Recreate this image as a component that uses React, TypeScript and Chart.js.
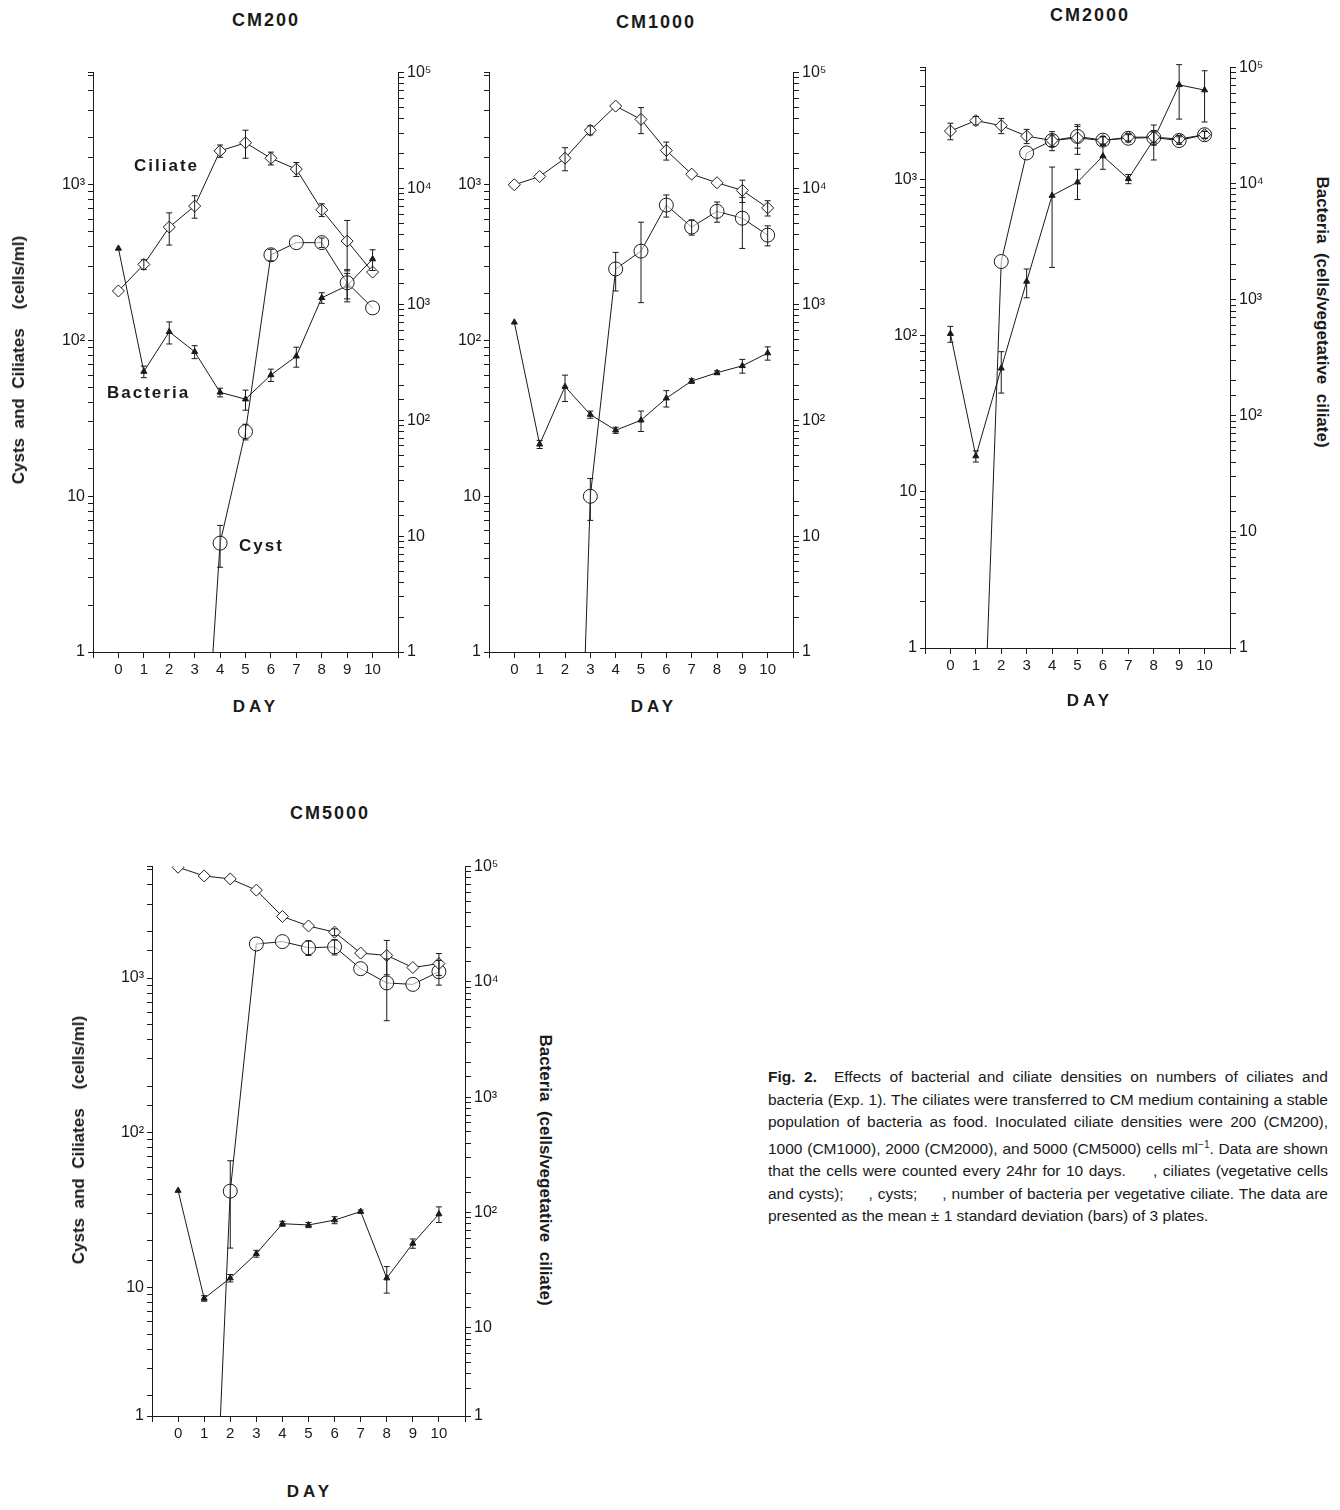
import { Chart, registerables } from 'chart.js';
import { useEffect, useRef } from 'react';

Chart.register(...registerables);

const days = [0, 1, 2, 3, 4, 5, 6, 7, 8, 9, 10];

// CM200
const cm200Ciliate = [208, 308, 535, 730, 1650, 1860, 1480, 1260, 690, 435, 275];
const cm200CiliateSd = [0, 22, 125, 120, 150, 380, 140, 130, 65, 155, 0];
const cm200CystDays = [3.72, 4, 5, 6, 7, 8, 9, 10];
const cm200Cyst = [1, 5, 26, 355, 425, 425, 235, 162];
const cm200CystSd = [0, 1.5, 3, 30, 0, 30, 50, 0];
const cm200Bacteria = [3040, 263, 580, 390, 174, 152, 246, 357, 1140, 1450, 2460];
const cm200BacteriaSd = [0, 30, 125, 50, 15, 30, 30, 70, 120, 400, 500];

// CM1000
const cm1000Ciliate = [1000, 1130, 1480, 2240, 3200, 2630, 1660, 1170, 1030, 920, 710];
const cm1000CiliateSd = [0, 0, 250, 150, 0, 500, 220, 0, 0, 150, 80];
const cm1000CystDays = [2.8, 3, 4, 5, 6, 7, 8, 9, 10];
const cm1000Cyst = [1, 10, 288, 375, 740, 535, 675, 610, 475];
const cm1000CystSd = [0, 3, 80, 200, 120, 60, 100, 220, 70];
const cm1000Bacteria = [700, 62, 195, 112, 82, 100, 155, 218, 257, 295, 380];
const cm1000BacteriaSd = [0, 5, 50, 8, 5, 20, 25, 10, 10, 40, 50];

// CM2000
const cm2000Ciliate = [2060, 2400, 2230, 1910, 1790, 1860, 1790, 1880, 1880, 1830, 1950];
const cm2000CiliateSd = [250, 150, 250, 200, 150, 400, 100, 100, 150, 100, 100];
const cm2000CystDays = [1.45, 2, 3, 4, 5, 6, 7, 8, 9, 10];
const cm2000Cyst = [1, 300, 1490, 1790, 1900, 1800, 1850, 1870, 1790, 1950];
const cm2000CystSd = [0, 0, 0, 250, 300, 100, 100, 200, 100, 100];
const cm2000Bacteria = [510, 45, 257, 1440, 7900, 10300, 17300, 11000, 24000, 71000, 64000];
const cm2000BacteriaSd = [80, 5, 100, 400, 6000, 3000, 4000, 1000, 8000, 35000, 30000];

// CM5000
const cm5000Ciliate = [5200, 4570, 4370, 3700, 2500, 2170, 1980, 1450, 1400, 1170, 1240];
const cm5000CiliateSd = [0, 0, 0, 0, 0, 0, 100, 0, 350, 0, 200];
const cm5000CystDays = [1.58, 2, 3, 4, 5, 6, 7, 8, 9, 10];
const cm5000Cyst = [1, 42, 1660, 1720, 1570, 1590, 1150, 930, 910, 1100];
const cm5000CystSd = [0, 24, 0, 0, 170, 180, 0, 400, 0, 200];
const cm5000Bacteria = [155, 18, 27, 44, 80, 78, 86, 102, 27, 54, 97];
const cm5000BacteriaSd = [0, 1, 2, 3, 4, 4, 6, 3, 7, 5, 15];

const leftTicks = [1, 10, 100, 1000];
const rightTicks = [1, 10, 100, 1000, 10000, 100000];
const tickText: Record<number, string> = { 1: '1', 10: '10', 100: '10²', 1000: '10³', 10000: '10⁴', 100000: '10⁵' };

const INK = '#1a1a1a';

const errorBars = {
  id: 'errorBars',
  afterDatasetsDraw(chart: any) {
    const ctx = chart.ctx;
    ctx.save();
    ctx.strokeStyle = INK;
    ctx.lineWidth = 1;
    chart.data.datasets.forEach((ds: any) => {
      if (!ds.sd) return;
      const ys = chart.scales[ds.yAxisID];
      ds.data.forEach((p: any, i: number) => {
        const sd = ds.sd[i];
        if (!sd) return;
        const x = chart.scales.x.getPixelForValue(p.x);
        const hi = ys.getPixelForValue(p.y + sd);
        const loV = Math.max(p.y - sd, ys.min);
        const lo = ys.getPixelForValue(loV);
        ctx.beginPath();
        ctx.moveTo(x, hi); ctx.lineTo(x, lo);
        ctx.moveTo(x - 3, hi); ctx.lineTo(x + 3, hi);
        if (p.y - sd > ys.min) { ctx.moveTo(x - 3, lo); ctx.lineTo(x + 3, lo); }
        ctx.stroke();
      });
    });
    ctx.restore();
  },
};

type PanelProps = {
  x1: number; y1: number; x2: number; y2: number;
  lMin?: number; rMin?: number;
  ciliate: number[]; ciliateSd: number[];
  cystDays: number[]; cyst: number[]; cystSd: number[];
  bacteria: number[]; bacteriaSd: number[];
};

const PADL = 70, PADR = 70, PADT = 12, PADB = 40;

function Panel(p: PanelProps) {
  const ref = useRef<HTMLCanvasElement | null>(null);
  useEffect(() => {
    if (!ref.current) return;
    const lMin = p.lMin ?? 1;
    const rMin = p.rMin ?? 1;
    const pts = (xs: number[], ys: number[]) => xs.map((x, i) => ({ x, y: ys[i] }));
    const chart = new Chart(ref.current, {
      type: 'line',
      data: {
        datasets: [
          {
            data: pts(days, p.ciliate), yAxisID: 'yL', sd: p.ciliateSd,
            borderColor: INK, borderWidth: 1, pointStyle: 'rectRot', pointRadius: 6,
            pointBackgroundColor: '#fff', pointBorderColor: INK, pointBorderWidth: 1,
          } as any,
          {
            data: pts(p.cystDays, p.cyst), yAxisID: 'yL', sd: p.cystSd,
            borderColor: INK, borderWidth: 1, pointStyle: 'circle',
            pointRadius: p.cystDays.map((_, i) => (i === 0 ? 0 : 7)),
            pointBackgroundColor: 'rgba(255,255,255,0.6)', pointBorderColor: INK, pointBorderWidth: 1,
          } as any,
          {
            data: pts(days, p.bacteria), yAxisID: 'yR', sd: p.bacteriaSd,
            borderColor: INK, borderWidth: 1, pointStyle: 'triangle', pointRadius: 3.5,
            pointBackgroundColor: INK, pointBorderColor: INK,
          } as any,
        ],
      },
      options: {
        animation: false,
        responsive: false,
        layout: { padding: { top: PADT, left: 0, right: 0, bottom: 0 } },
        plugins: { legend: { display: false }, tooltip: { enabled: false } },
        scales: {
          x: {
            type: 'linear', min: -1, max: 11,
            afterFit: (s: any) => { s.height = PADB; },
            grid: { drawOnChartArea: false, tickLength: 6, color: INK },
            border: { color: INK },
            ticks: {
              stepSize: 1, autoSkip: false, color: INK, font: { size: 15, family: 'Liberation Sans' },
              callback: (v: any) => (v >= 0 && v <= 10 ? String(v) : ''),
            },
          },
          yL: {
            type: 'logarithmic', position: 'left', min: lMin, max: 5250,
            afterFit: (s: any) => { s.width = PADL; },
            grid: { drawOnChartArea: false, tickLength: 5, color: INK },
            border: { color: INK },
            ticks: {
              autoSkip: false, color: INK, font: { size: 16, family: 'Liberation Sans' },
              callback: (v: any) => (v === lMin ? '1' : leftTicks.includes(v) ? tickText[v] : ''),
            },
          },
          yR: {
            type: 'logarithmic', position: 'right', min: rMin, max: 100000,
            afterFit: (s: any) => { s.width = PADR; },
            grid: { drawOnChartArea: false, tickLength: 6, color: INK },
            border: { color: INK },
            ticks: {
              autoSkip: false, color: INK, font: { size: 16, family: 'Liberation Sans' },
              callback: (v: any) => (v === rMin ? '1' : rightTicks.includes(v) ? tickText[v] : ''),
            },
          },
        },
      } as any,
      plugins: [errorBars],
    });
    return () => chart.destroy();
  }, []);
  const w = p.x2 - p.x1 + PADL + PADR;
  const h = p.y2 - p.y1 + PADT + PADB;
  return (
    <canvas
      ref={ref}
      width={w}
      height={h}
      style={{ position: 'absolute', left: p.x1 - PADL, top: p.y1 - PADT, width: w, height: h }}
    />
  );
}

const label = (text: string, x: number, y: number, extra: any = {}) => (
  <div style={{ position: 'absolute', left: x, top: y, whiteSpace: 'nowrap', fontFamily: 'Liberation Sans, Arial', fontWeight: 'bold', color: INK, ...extra }}>
    {text}
  </div>
);

const vLabel = (text: string, cx: number, cy: number, rot: number) => (
  <div style={{
    position: 'absolute', left: cx, top: cy, transform: `translate(-50%, -50%) rotate(${rot}deg)`,
    whiteSpace: 'pre', fontFamily: 'Liberation Sans, Arial', fontWeight: 'bold', fontSize: 17, color: INK,
  }}>{text}</div>
);

export default function App() {
  const title = { fontSize: 18, letterSpacing: 2, transform: 'translateX(-50%)' };
  const day = { fontSize: 17, letterSpacing: 4, transform: 'translateX(-50%)' };
  return (
    <div style={{ position: 'relative', width: 1340, height: 1510, margin: -8, background: '#fff', overflow: 'hidden' }}>
      <Panel x1={93} y1={72} x2={398} y2={652} ciliate={cm200Ciliate} ciliateSd={cm200CiliateSd}
        cystDays={cm200CystDays} cyst={cm200Cyst} cystSd={cm200CystSd} bacteria={cm200Bacteria} bacteriaSd={cm200BacteriaSd} />
      <Panel x1={489} y1={72} x2={793} y2={652} ciliate={cm1000Ciliate} ciliateSd={cm1000CiliateSd}
        cystDays={cm1000CystDays} cyst={cm1000Cyst} cystSd={cm1000CystSd} bacteria={cm1000Bacteria} bacteriaSd={cm1000BacteriaSd} />
      <Panel x1={925} y1={67} x2={1230} y2={648} ciliate={cm2000Ciliate} ciliateSd={cm2000CiliateSd}
        cystDays={cm2000CystDays} cyst={cm2000Cyst} cystSd={cm2000CystSd} bacteria={cm2000Bacteria} bacteriaSd={cm2000BacteriaSd} />
      <Panel x1={152} y1={866} x2={465} y2={1416} lMin={1.48} rMin={1.72}
        ciliate={cm5000Ciliate} ciliateSd={cm5000CiliateSd}
        cystDays={cm5000CystDays} cyst={cm5000Cyst} cystSd={cm5000CystSd} bacteria={cm5000Bacteria} bacteriaSd={cm5000BacteriaSd} />

      {label('CM200', 266, 10, title)}
      {label('CM1000', 656, 12, title)}
      {label('CM2000', 1090, 5, title)}
      {label('CM5000', 330, 803, title)}
      {label('DAY', 256, 697, day)}
      {label('DAY', 654, 697, day)}
      {label('DAY', 1090, 691, day)}
      {label('DAY', 310, 1482, day)}
      {label('Ciliate', 134, 156, { fontSize: 17, letterSpacing: 2 })}
      {label('Bacteria', 107, 383, { fontSize: 17, letterSpacing: 2 })}
      {label('Cyst', 239, 536, { fontSize: 17, letterSpacing: 2 })}
      {vLabel('Cysts  and  Ciliates    (cells/ml)', 19, 360, -90)}
      {vLabel('Cysts  and  Ciliates    (cells/ml)', 79, 1140, -90)}
      {vLabel('Bacteria  (cells/vegetative  ciliate)', 1322, 312, 90)}
      {vLabel('Bacteria  (cells/vegetative  ciliate)', 545, 1170, 90)}

      <div style={{
        position: 'absolute', left: 768, top: 1066, width: 560, fontFamily: 'Liberation Sans, Arial',
        fontSize: 15.5, lineHeight: '22.5px', textAlign: 'justify', color: INK,
      }}>
        <b>Fig. 2.</b>&nbsp; Effects of bacterial and ciliate densities on numbers of ciliates and bacteria (Exp. 1). The ciliates were transferred to CM medium containing a stable population of bacteria as food. Inoculated ciliate densities were 200 (CM200), 1000 (CM1000), 2000 (CM2000), and 5000 (CM5000) cells ml<sup style={{ fontSize: 10 }}>−1</sup>. Data are shown that the cells were counted every 24hr for 10 days. &nbsp;&nbsp;&nbsp;&nbsp;, ciliates (vegetative cells and cysts); &nbsp;&nbsp;&nbsp;&nbsp;, cysts; &nbsp;&nbsp;&nbsp;&nbsp;, number of bacteria per vegetative ciliate. The data are presented as the mean ± 1 standard deviation (bars) of 3 plates.
      </div>
    </div>
  );
}
